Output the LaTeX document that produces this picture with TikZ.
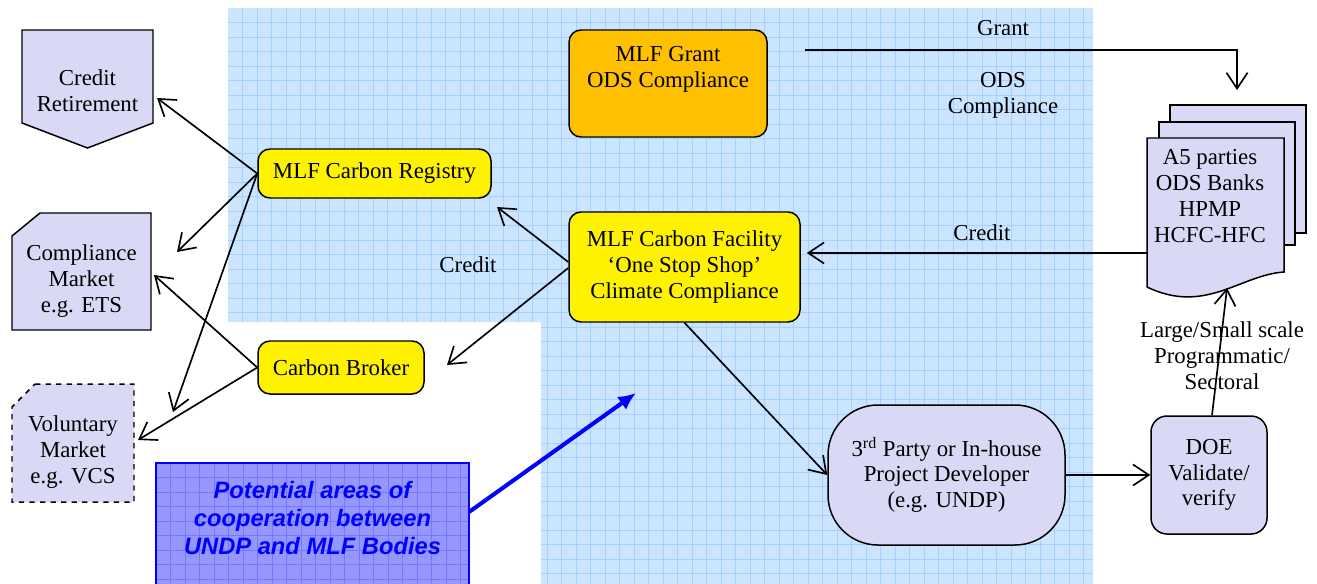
\documentclass[tikz,border=0pt]{standalone}
\usepackage{fontspec}
\setmainfont{Liberation Serif}
\newfontfamily\coopfont{Liberation Sans}
\usepackage{tikz}
\usetikzlibrary{arrows.meta, positioning, calc, backgrounds}

\newlength\pxu
\setlength\pxu{0.02cm}
\definecolor{lav}{RGB}{217,217,245}
\definecolor{gridbg}{RGB}{204,229,255}
\definecolor{gridln}{RGB}{166,208,255}
\definecolor{coopbg}{RGB}{150,150,255}
\definecolor{coopln}{RGB}{118,118,255}
\definecolor{mlforange}{RGB}{255,192,0}
\definecolor{coopblue}{RGB}{0,0,255}
\pgfdeclarelayer{paper}
\pgfsetlayers{paper,background,main}

\begin{document}
\begin{tikzpicture}[
    x=0.02cm, y=-0.02cm,
    every node/.style={font=\fontsize{13}{14.7}\selectfont, align=center},
    ghost/.style={inner sep=0pt},
    lavbox/.style={fill=lav, draw=black, line width=0.85pt},
    ybox/.style={draw, line width=0.85pt, fill=yellow, rounded corners=12\pxu},
    arr/.style={-{Straight Barb[length=9pt,width=12pt]}, line width=0.95pt},
    coopgrid/.style={coopln, line width=0.5pt},
]
\useasboundingbox (0,0) rectangle (1317,584);

% ── Grid paper behind the MLF part ──
\begin{pgfonlayer}{paper}
\fill[gridbg] (228,8) -- (1093,8) -- (1093,584) -- (541,584) -- (541,322) -- (228,322) -- cycle;
\begin{scope}
\clip (228,8) -- (1093,8) -- (1093,584) -- (541,584) -- (541,322) -- (228,322) -- cycle;
\foreach \k in {1,...,60} \draw[gridln, line width=0.5pt] ({228+14.5*\k},8) -- ({228+14.5*\k},584);
\foreach \k in {1,...,40} \draw[gridln, line width=0.5pt] (228,{8+14.5*\k}) -- (1093,{8+14.5*\k});
\end{scope}
\end{pgfonlayer}

% ── Markets (left) ──
\node[ghost] (ret) at (87.5,90.5) {Credit\\Retirement};
\node[ghost] (comp) at (81.5,281) {Compliance\\Market\\e.g. ETS};
\node[ghost] (vol) at (73,452) {Voluntary\\Market\\e.g. VCS};
\begin{scope}[on background layer]
\draw[lavbox, shift={(ret)}] (-65.5,-60.5) -- (65.5,-60.5) -- (65.5,32.5) -- (0,57.5) -- (-65.5,32.5) -- cycle;
\draw[lavbox, shift={(comp)}] (-41.5,-68) -- (69.5,-68) -- (69.5,49) -- (-69.5,49) -- (-69.5,-45) -- cycle;
\draw[lavbox, dashed, shift={(vol)}] (-38,-68) -- (61,-68) -- (61,50) -- (-61,50) -- (-61,-45) -- cycle;
\end{scope}

% ── MLF bodies (yellow / orange) ──
\node[ybox, minimum width=233\pxu, minimum height=49\pxu] (reg) at (374.5,173.5) {MLF Carbon Registry};
\node[ybox, minimum width=166\pxu, minimum height=53\pxu] (broker) at (341,367.5) {Carbon Broker};
\node[ghost] (grant) at (668,69) {MLF Grant\\ODS Compliance};
\begin{scope}[on background layer, shift={(grant)}]
\draw[ybox, fill=mlforange] (-99,-39) rectangle (99,68);
\end{scope}
\node[ybox, minimum width=231\pxu, minimum height=110\pxu] (fac) at (684.5,267) {MLF Carbon Facility\\‘One Stop Shop’\\Climate Compliance};

% ── Project side (right) ──
\node[lavbox, rounded corners=50\pxu, minimum width=237\pxu, minimum height=140\pxu] (dev) at (946.5,475) {3\textsuperscript{rd} Party or In-house\\Project Developer\\(e.g. UNDP)};
\node[lavbox, rounded corners=16\pxu, minimum width=116\pxu, minimum height=118\pxu] (doe) at (1209,475) {DOE\\Validate/\\verify};
\node[ghost] (docs) at (1210,196) {A5 parties\\ODS Banks\\HPMP\\HCFC-HFC};
\begin{scope}[on background layer, shift={(docs)}]
\draw[lavbox] (-40,-91) rectangle (96,37);
\draw[lavbox] (-51,-74) rectangle (85,49);
\draw[lavbox] (-63,-58) -- (74,-58) -- (74,76) .. controls (30,79) and (-5,119) .. (-63,91) -- cycle;
\end{scope}

% ── Cooperation box ──
\node[ghost, font=\coopfont\bfseries\itshape\fontsize{13.5}{15.9}\selectfont, text=coopblue] (coop) at (312.5,518) {Potential areas of\\cooperation between\\UNDP and MLF Bodies};
\begin{scope}[on background layer, shift={(coop)}]
\fill[coopbg] (-156.5,-55) rectangle (156.5,75);
\begin{scope}
\clip (-156.5,-55) rectangle (156.5,75);
\foreach \k in {1,...,21} \draw[coopgrid] ({-156.5+14.5*\k},-55) -- ({-156.5+14.5*\k},75);
\foreach \k in {1,...,8} \draw[coopgrid] (-156.5,{-55+14.5*\k}) -- (156.5,{-55+14.5*\k});
\end{scope}
\draw[coopblue, line width=1pt] (-156.5,75) -- (-156.5,-55) -- (156.5,-55) -- (156.5,75);
\end{scope}
\coordinate (coopend) at (636,393);

% ── Labels ──
\node (grantlbl) at (1003,28) {Grant};
\node (odslbl) at (1003,95) {ODS\\Compliance};
\node (credlbl) at (468,265) {Credit};
\node (credlbl2) at (982,233) {Credit};
\node (scalelbl) at (1222,356) {Large/Small scale\\Programmatic/\\Sectoral};

% ── Arrows ──
\draw[arr] (reg.west) -- ($(ret)+(69.5,7.5)$);
\draw[arr] (reg.west) -- ($(comp)+(95.5,-29)$);
\draw[arr] (reg.west) -- ($(vol)+(100,-40)$);
\draw[arr] (broker.west) -- ($(comp)+(72.5,-6)$);
\draw[arr] (broker.west) -- ($(vol)+(65,-12)$);

\draw[arr] ($(fac.west)+(0,-5)$) -- ($(reg)+(122.5,33.5)$);
\draw[arr] ($(fac.west)+(0,1)$) -- ($(broker)+(106,-2.5)$);
\draw[arr] (fac.south) -- (dev.west);
\draw[arr] (dev.east) -- (doe.west);
\draw[arr] ($(doe.north)+(3,0)$) -- ($(docs)+(17,92)$);
\draw[arr] ($(docs)+(-63,57)$) -- ($(fac.east)+(6,-14)$);
\draw[arr] ($(grant)+(137,-19)$) -| ($(docs)+(27,-106)$);

\draw[-{Latex[length=10pt,width=9pt]}, coopblue, line width=2.3pt] ($(coop)+(156.5,-6)$) -- (coopend);

\end{tikzpicture}
\end{document}
